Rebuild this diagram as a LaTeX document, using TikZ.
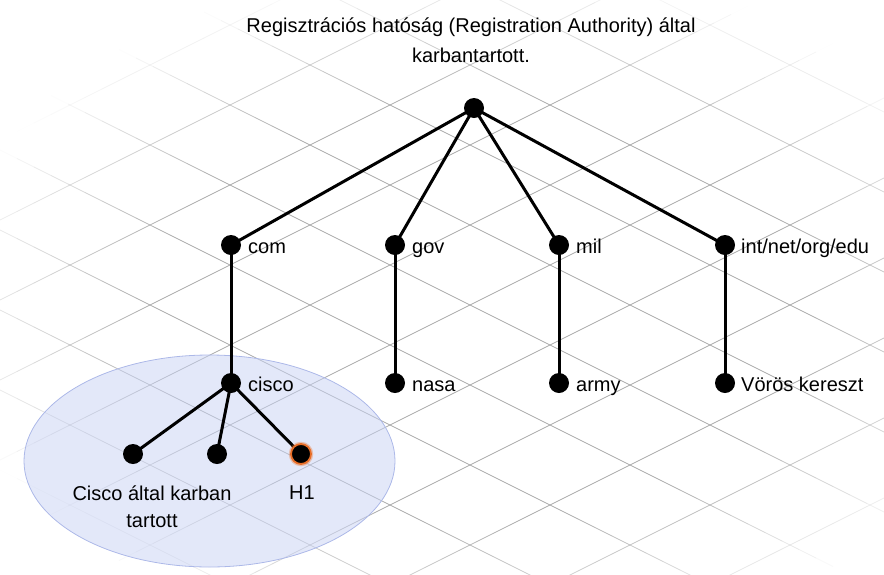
\documentclass[tikz,border=0pt]{standalone}
\usepackage{fontspec}
\setmainfont{Liberation Sans}
\pgfdeclarelayer{gridlayer}
\pgfdeclarelayer{edgelayer}
\pgfsetlayers{gridlayer,edgelayer,main}
\definecolor{gridc}{RGB}{170,170,170}
\definecolor{zonefill}{RGB}{200,210,244}
\definecolor{zoneline}{RGB}{172,184,232}
\definecolor{halo}{RGB}{232,110,40}
\begin{document}
\begin{tikzpicture}[x=1pt,y=-1pt,
  dot/.style={circle,fill=black,inner sep=0pt,minimum size=20pt},
  hdot/.style={dot,draw=halo,line width=1.8pt,
     preaction={draw=halo,draw opacity=0.35,line width=4.5pt}},
  lbl/.style={anchor=base west,inner sep=0pt,font=\fontsize{20}{24}\selectfont},
  undertext/.style={align=center,inner sep=0pt,font=\fontsize{20}{27}\selectfont},
  title/.style={align=center,inner sep=0pt,font=\fontsize{20}{30}\selectfont},
  link/.style={line width=3pt,black},
  gridline/.style={gridc,line width=0.8pt}]
\useasboundingbox (0,0) rectangle (884,574);
% background grid, fading towards the edges
\begin{pgfonlayer}{gridlayer}
\begin{scope}
\clip (0,0) rectangle (884,574);
\foreach \k in {-5,...,7} {
  \foreach \xa in {0,17,...,867} {
    \pgfmathsetmacro\xb{\xa+17}
    \pgfmathsetmacro\ya{0.5*\xa-10+80*\k}
    \pgfmathsetmacro\yb{0.5*\xb-10+80*\k}
    \pgfmathsetmacro\ym{0.5*(\ya+\yb)}
    \pgfmathsetmacro\rr{sqrt(((\xa+8.5-480)/470)^2+((\ym-310)/300)^2)}
    \pgfmathsetmacro\op{max(0,min(1,(1.15-\rr)/0.45))}
    \draw[gridline,draw opacity=\op] (\xa,\ya) -- (\xb,\yb);
  }
}
\foreach \k in {-2,...,9} {
  \foreach \xa in {0,17,...,867} {
    \pgfmathsetmacro\xb{\xa+17}
    \pgfmathsetmacro\ya{-0.5*\xa+220+80*\k}
    \pgfmathsetmacro\yb{-0.5*\xb+220+80*\k}
    \pgfmathsetmacro\ym{0.5*(\ya+\yb)}
    \pgfmathsetmacro\rr{sqrt(((\xa+8.5-480)/470)^2+((\ym-310)/300)^2)}
    \pgfmathsetmacro\op{max(0,min(1,(1.15-\rr)/0.45))}
    \draw[gridline,draw opacity=\op] (\xa,\ya) -- (\xb,\yb);
  }
}
\end{scope}
% Cisco zone
\fill[zonefill,fill opacity=0.5] (209.5,461) ellipse [x radius=185.5, y radius=106];
\draw[zoneline,line width=0.8pt] (209.5,461) ellipse [x radius=185.5, y radius=106];
\end{pgfonlayer}

\node[title] (titletext) at (471,40) {Regisztrációs hatóság (Registration Authority) által\\karbantartott.};

\node[dot] (root) at (474,108) {};
\node[dot] (com) at (231,245) {};
\node[dot] (gov) at (395,245) {};
\node[dot] (mil) at (559,245) {};
\node[dot] (int) at (725,245) {};
\node[dot] (cisco) at (231,383) {};
\node[dot] (nasa) at (395,383) {};
\node[dot] (army) at (559,383) {};
\node[dot] (red) at (725,383) {};
\node[dot] (leafa) at (133,454) {};
\node[dot] (leafb) at (217,454) {};
\node[hdot] (hone) at (301,454) {};

\node[lbl] (lcom) at (248,253) {com};
\node[lbl] (lgov) at (412,253) {gov};
\node[lbl] (lmil) at (576,253) {mil};
\node[lbl] (lint) at (741,253) {int/net/org/edu};
\node[lbl] (lcisco) at (248,391.5) {cisco};
\node[lbl] (lnasa) at (412,391.5) {nasa};
\node[lbl] (larmy) at (576,391.5) {army};
\node[lbl] (lred) at (741,391.5) {Vörös kereszt};
\node[undertext] (lleaf) at (152,507) {Cisco által karban\\tartott};
\node[undertext] (lhone) at (302,493) {H1};

\begin{pgfonlayer}{edgelayer}
\foreach \c in {com,gov,mil,int} \draw[link] (root.center) -- (\c.center);
\draw[link] (com.center) -- (cisco.center);
\draw[link] (gov.center) -- (nasa.center);
\draw[link] (mil.center) -- (army.center);
\draw[link] (int.center) -- (red.center);
\foreach \c in {leafa,leafb,hone} \draw[link] (cisco.center) -- (\c.center);
\end{pgfonlayer}
\end{tikzpicture}
\end{document}
